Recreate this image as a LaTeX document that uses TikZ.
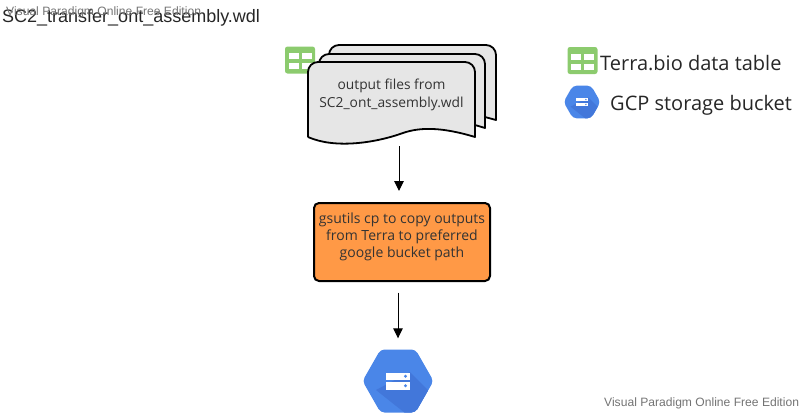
\documentclass[tikz,border=0pt]{standalone}
\usepackage{fontspec}
\setmainfont{Open Sans}
\newfontfamily\arialfont{Liberation Sans}
\usetikzlibrary{arrows.meta, positioning}

\definecolor{docgray}{HTML}{E6E6E6}
\definecolor{boxorange}{HTML}{FF9946}
\definecolor{tablegreen}{HTML}{8CCB6E}
\definecolor{bucketblue}{HTML}{4A86E8}
\definecolor{bucketshade}{HTML}{4277DA}
\definecolor{inktext}{HTML}{333333}

\tikzset{
    docpage/.style={draw=black, line width=1.8pt, fill=docgray, line join=round},
    actionbox/.style={draw=black, line width=2pt, fill=boxorange, rounded corners=5pt, text=inktext, align=center, font=\fontsize{14}{17}\selectfont},
    flow/.style={draw=black, line width=1pt, -{Triangle[length=10pt,width=9.5pt]}},
    legendtext/.style={anchor=west, inner sep=0pt, text=black!85, font=\fontsize{20}{24}\selectfont},
    watermark/.style={anchor=west, inner sep=0pt, text=black!55, font=\arialfont\fontsize{12.1}{14}\selectfont},
    tableicon/.pic={
        \fill[tablegreen, rounded corners=2.5pt] (-15,-13.5) rectangle (15,13.5);
        \fill[white] (-11.5,-7) rectangle (-1.5,-1); % Top left cell
        \fill[white] (1.5,-7) rectangle (11.5,-1); % Top right cell
        \fill[white] (-11.5,3) rectangle (-1.5,9); % Bottom left cell
        \fill[white] (1.5,3) rectangle (11.5,9); % Bottom right cell
    },
    bucketicon/.pic={
        \fill[bucketblue, rounded corners=4pt] (-35.5,0) -- (-17.5,-31.5) -- (17.5,-31.5) -- (35.5,0) -- (17.5,31.5) -- (-17.5,31.5) -- cycle;
        \begin{scope}
            \clip[rounded corners=4pt] (-35.5,0) -- (-17.5,-31.5) -- (17.5,-31.5) -- (35.5,0) -- (17.5,31.5) -- (-17.5,31.5) -- cycle;
            \fill[bucketshade] (12,-9) -- (40,19) -- (17,40) -- (-22,9) -- cycle; % Shadow
        \end{scope}
        \fill[white] (-12,-8.5) rectangle (12,-1); % Top bar
        \fill[white] (-12,1) rectangle (12,8.5); % Bottom bar
        \fill[bucketblue] (7.5,-4.7) circle (1.6); % Top dot
        \fill[bucketblue] (7.5,4.7) circle (1.6); % Bottom dot
    }
}

\begin{document}
\begin{tikzpicture}[x=1pt, y=-1pt]
    \useasboundingbox (0,0) rectangle (803,413);

    \node[anchor=west, inner sep=0pt, text=black!85, font=\arialfont\fontsize{18}{22}\selectfont] (title) at (2,18) {SC2\_transfer\_ont\_assembly.wdl};
    \node[watermark] (marktop) at (6,12) {Visual Paradigm Online Free Edition};
    \node[watermark] (markbottom) at (604,403) {Visual Paradigm Online Free Edition};

    % Stacked output files
    \draw[docpage] (329,56) [rounded corners=10pt] -- (329,45) -- (496,45) [sharp corners] -- (496,120) -- (485,117);
    \draw[docpage] (319,64) [rounded corners=10pt] -- (319,54) -- (485,54) [sharp corners] -- (485,128) -- (475,125);
    \pic at (300,60) {tableicon};
    \draw[docpage] (308,137) [rounded corners=10pt] -- (308,62) -- (475,62) [sharp corners] -- (475,137)
        .. controls (442,127) and (420,127) .. (403,133) .. controls (375,143) and (335,149) .. (308,137);
    \node[minimum width=167pt, minimum height=81pt, inner sep=0pt, align=center, text=inktext, font=\fontsize{13.8}{18}\selectfont] (outfiles) at (391.5,95) {output files from\\SC2\_ont\_assembly.wdl};

    \node[actionbox, minimum width=176pt, minimum height=78pt, inner sep=0pt] (gsutil) at (402,242) {gsutils cp to copy outputs\\from Terra to preferred\\google bucket path\\[-3pt]~};

    \pic at (398,381) {bucketicon};
    \node[minimum width=70pt, minimum height=62pt, inner sep=0pt] (bucket) at (398,381) {};

    \draw[flow, shorten <=10.5pt, shorten >=11pt] ([xshift=7.5pt]outfiles.south) -- ([xshift=-3pt]gsutil.north);
    \draw[flow, shorten <=10.5pt, shorten >=11.5pt] ([xshift=-4pt]gsutil.south) -- (bucket.north);

    % Legend
    \pic at (582.5,60.5) {tableicon};
    \node[legendtext] (legendtable) at (600,63) {Terra.bio data table};
    \pic[scale=0.52] at (582,102) {bucketicon};
    \node[legendtext] (legendbucket) at (610,105) {GCP storage bucket};
\end{tikzpicture}
\end{document}
